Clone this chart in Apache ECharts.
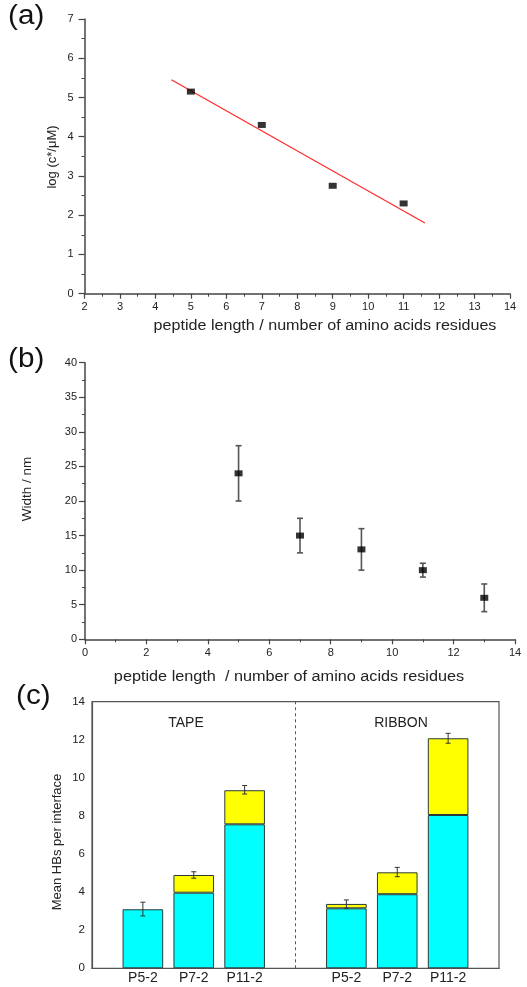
<!DOCTYPE html>
<html>
<head>
<meta charset="utf-8">
<script src="https://cdn.jsdelivr.net/npm/echarts@6/dist/echarts.min.js"></script>
<style>
html,body{margin:0;padding:0;background:#fff;}
#chart{width:527px;height:987px;}
</style>
</head>
<body>
<div id="chart"></div>
<script>
// ---- Panel (a) data ----
const aX = [5, 7, 9, 11];
const aY = [5.15, 4.3, 2.75, 2.3];
const fitX = [4.45, 11.6];
const fitY = [5.45, 1.8];

// ---- Panel (b) data ----
const bX = [5, 7, 9, 11, 13];
const bY = [24, 15, 13, 10, 6];
const bLow = [20, 12.5, 10, 9, 4];
const bHigh = [28, 17.5, 16, 11, 8];

// ---- Panel (c) data ----
const cCats = ['', 'P5-2', 'P7-2', 'P11-2', '', 'P5-2', 'P7-2', 'P11-2', ''];
const cPos = [1, 2, 3, 5, 6, 7];
const cCyan = [3.1, 3.97, 7.56, 3.15, 3.89, 8.05];
const cYellow = [null, 0.93, 1.79, 0.23, 1.15, 4.03];
const cErrLow = [2.75, 4.73, 9.15, 3.15, 4.81, 11.82];
const cErrHigh = [3.47, 5.07, 9.6, 3.59, 5.3, 12.34];
const cGroups = ['TAPE', 'RIBBON'];

const FONT = '"Liberation Sans", Arial, Helvetica, sans-serif';
const axisCol = '#444';
const txtCol = '#222';

// category slots for panel (c)
const cSlots = cCats.map((_, i) => String(i));
function slotSeries(vals) {
  const arr = cCats.map(() => null);
  cPos.forEach((p, i) => { arr[p] = vals[i]; });
  return arr;
}

function errRender(capW, color, width) {
  return function (params, api) {
    const x = api.value(0), lo = api.value(1), hi = api.value(2);
    const pLo = api.coord([x, lo]);
    const pHi = api.coord([x, hi]);
    const st = { stroke: color, lineWidth: width };
    return {
      type: 'group',
      children: [
        { type: 'line', shape: { x1: pLo[0], y1: pLo[1], x2: pHi[0], y2: pHi[1] }, style: st },
        { type: 'line', shape: { x1: pHi[0] - capW / 2, y1: pHi[1], x2: pHi[0] + capW / 2, y2: pHi[1] }, style: st },
        { type: 'line', shape: { x1: pLo[0] - capW / 2, y1: pLo[1], x2: pLo[0] + capW / 2, y2: pLo[1] }, style: st }
      ]
    };
  };
}

const chart = echarts.init(document.getElementById('chart'), null, { renderer: 'canvas' });

const baseAxis = {
  axisLine: { show: true, onZero: false, lineStyle: { color: axisCol, width: 1.5 } },
  axisTick: { show: true, inside: false, length: 5, lineStyle: { color: axisCol, width: 1.2 } },
  minorTick: { show: true, splitNumber: 2, length: 3, lineStyle: { color: axisCol, width: 1 } },
  splitLine: { show: false },
  axisLabel: { color: txtCol, fontFamily: FONT, fontSize: 11 }
};
function ax(extra) { return echarts.util.merge(echarts.util.clone(baseAxis), extra, true); }

const option = {
  animation: false,
  backgroundColor: '#fff',
  grid: [
    { left: 84.5, right: 17, top: 19, bottom: 693.3, outerBoundsMode: 'none', containLabel: false },
    { left: 85, right: 12, top: 362.7, bottom: 347.7, outerBoundsMode: 'none', containLabel: false },
    { left: 92, right: 28, top: 701.7, bottom: 18.7, outerBoundsMode: 'none', containLabel: false,
      show: true, borderColor: '#555', borderWidth: 1.2 }
  ],
  xAxis: [
    ax({ gridIndex: 0, type: 'value', min: 2, max: 14, interval: 1, axisLabel: { margin: 8 } }),
    ax({ gridIndex: 1, type: 'value', min: 0, max: 14, interval: 2, axisLabel: { margin: 8 } }),
    { gridIndex: 2, type: 'category', data: cSlots, boundaryGap: false,
      axisLine: { show: true, onZero: false, lineStyle: { color: '#555', width: 1.2 } },
      axisTick: { show: false }, splitLine: { show: false },
      axisLabel: { color: txtCol, fontFamily: FONT, fontSize: 14, margin: 3, interval: 0,
        formatter: function (v) { return cCats[Number(v)] || ''; } } }
  ],
  yAxis: [
    ax({ gridIndex: 0, type: 'value', min: 0, max: 7, interval: 1, axisTick: { length: 6 }, axisLabel: { margin: 11 } }),
    ax({ gridIndex: 1, type: 'value', min: 0, max: 40, interval: 5, axisTick: { length: 6 }, axisLabel: { margin: 8 } }),
    { gridIndex: 2, type: 'value', min: 0, max: 14, interval: 2,
      axisLine: { show: true, onZero: false, lineStyle: { color: '#555', width: 1.2 } },
      axisTick: { show: false }, splitLine: { show: false },
      axisLabel: { color: txtCol, fontFamily: FONT, fontSize: 11.5, margin: 7 } }
  ],
  series: [
    // (a)
    { type: 'line', xAxisIndex: 0, yAxisIndex: 0, data: fitX.map((x, i) => [x, fitY[i]]),
      showSymbol: false, symbol: 'none', lineStyle: { color: '#ff2a2a', width: 1.2 }, z: 2 },
    { type: 'scatter', xAxisIndex: 0, yAxisIndex: 0, data: aX.map((x, i) => [x, aY[i]]),
      symbol: 'rect', symbolSize: [8, 6], itemStyle: { color: '#000' }, z: 3 },
    // (b)
    { type: 'custom', xAxisIndex: 1, yAxisIndex: 1, data: bX.map((x, i) => [x, bLow[i], bHigh[i]]),
      renderItem: errRender(6, '#555', 1.6), z: 2 },
    { type: 'scatter', xAxisIndex: 1, yAxisIndex: 1, data: bX.map((x, i) => [x, bY[i]]),
      symbol: 'rect', symbolSize: [8, 6], itemStyle: { color: '#000' }, z: 3 },
    // (c)
    { type: 'bar', xAxisIndex: 2, yAxisIndex: 2, stack: 'hb', barWidth: 40.6,
      data: slotSeries(cCyan),
      itemStyle: { color: '#00ffff', borderColor: '#2a3a3a', borderWidth: 1 },
      markLine: { silent: true, symbol: 'none', label: { show: false },
        lineStyle: { color: '#555', type: [3, 3], width: 1 }, data: [{ xAxis: '4' }] } },
    { type: 'bar', xAxisIndex: 2, yAxisIndex: 2, stack: 'hb', barWidth: 40.6,
      data: slotSeries(cYellow),
      itemStyle: { color: '#ffff00', borderColor: '#2a3a3a', borderWidth: 1 } },
    { type: 'custom', xAxisIndex: 2, yAxisIndex: 2, data: cPos.map((p, i) => [p, cErrLow[i], cErrHigh[i]]),
      renderItem: errRender(5, '#333', 1), z: 5 }
  ],
  graphic: [
    { type: 'text', x: 8, y: 3, scaleX: 1.1, style: { text: '(a)', font: '27px ' + FONT, fill: '#111' } },
    { type: 'text', x: 8, y: 346, scaleX: 1.1, style: { text: '(b)', font: '27px ' + FONT, fill: '#111' } },
    { type: 'text', x: 16, y: 683, scaleX: 1.1, style: { text: '(c)', font: '27px ' + FONT, fill: '#111' } },
    { type: 'text', x: 325, y: 326, scaleX: 1.15, style: { text: 'peptide length / number of amino acids residues',
      font: '14px ' + FONT, fill: txtCol, align: 'center', verticalAlign: 'middle' } },
    { type: 'text', x: 289, y: 677, scaleX: 1.16, style: { text: 'peptide length  / number of amino acids residues',
      font: '14px ' + FONT, fill: txtCol, align: 'center', verticalAlign: 'middle' } },
    { type: 'text', x: 52, y: 157, rotation: Math.PI / 2, style: { text: 'log (c*/\u03bcM)',
      font: '13px ' + FONT, fill: txtCol, align: 'center', verticalAlign: 'middle' } },
    { type: 'text', x: 27, y: 489, rotation: Math.PI / 2, style: { text: 'Width / nm',
      font: '13.5px ' + FONT, fill: txtCol, align: 'center', verticalAlign: 'middle' } },
    { type: 'text', x: 57, y: 842, rotation: Math.PI / 2, style: { text: 'Mean HBs per interface',
      font: '13px ' + FONT, fill: txtCol, align: 'center', verticalAlign: 'middle' } },
    { type: 'text', x: 186, y: 723, style: { text: cGroups[0],
      font: '14px ' + FONT, fill: txtCol, align: 'center', verticalAlign: 'middle' } },
    { type: 'text', x: 401, y: 723, style: { text: cGroups[1],
      font: '14px ' + FONT, fill: txtCol, align: 'center', verticalAlign: 'middle' } }
  ]
};
chart.setOption(option);
</script>
</body>
</html>
